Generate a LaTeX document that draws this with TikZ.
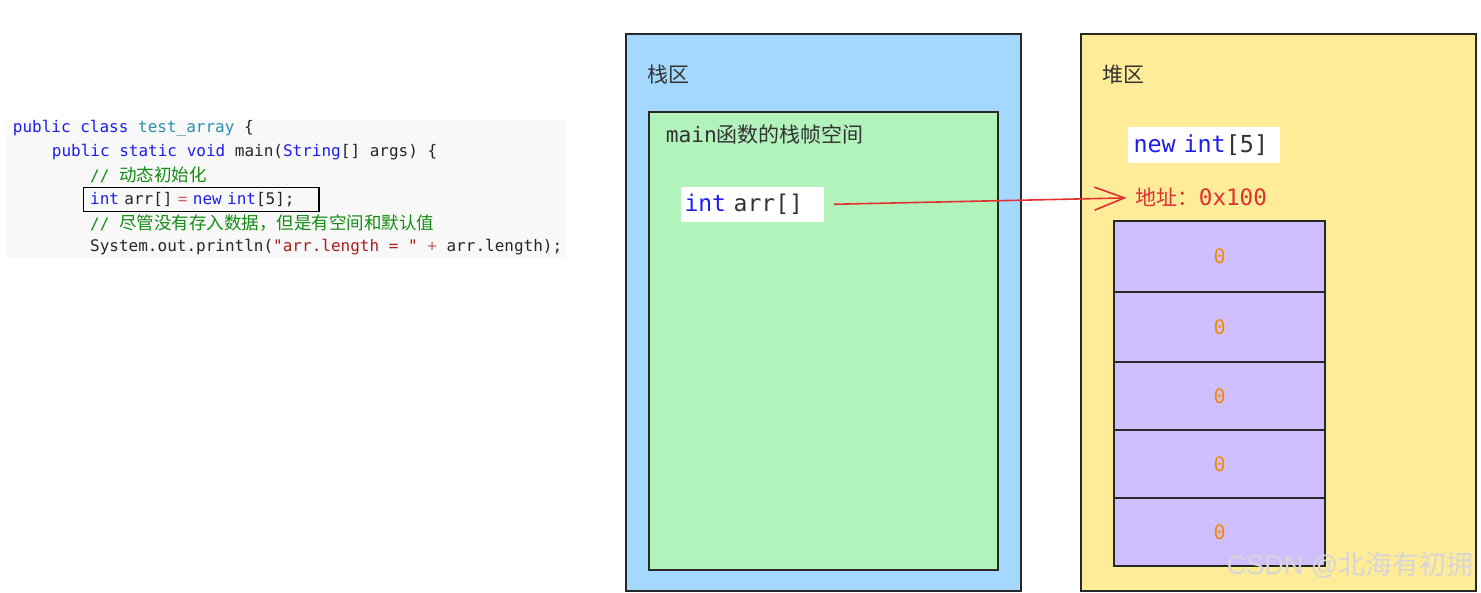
\documentclass[tikz,border=0pt]{standalone}
\usepackage{fontspec}
\setmainfont{Noto Sans CJK SC}
\setmonofont{DejaVu Sans Mono}
\newfontfamily\cjk{Noto Sans CJK SC}
\newfontfamily\wmfont{Liberation Sans}
\usetikzlibrary{positioning}
\usetikzlibrary{arrows.meta}
\definecolor{StackBlue}{RGB}{165, 216, 255}
\definecolor{FrameGreen}{RGB}{178, 242, 187}
\definecolor{HeapYellow}{RGB}{255, 236, 153}
\definecolor{CellPurple}{RGB}{208, 191, 255}
\definecolor{ZeroOrange}{RGB}{240, 140, 0}
\definecolor{PtrRed}{RGB}{224, 49, 49}
\definecolor{EdgeGray}{RGB}{40, 40, 40}
\definecolor{CodeBg}{RGB}{248, 248, 248}
\definecolor{KwBlue}{RGB}{30, 30, 235}
\definecolor{TypeTeal}{RGB}{43, 145, 170}
\definecolor{CmtGreen}{RGB}{20, 140, 20}
\definecolor{StrRed}{RGB}{170, 30, 30}
\definecolor{OpRed}{RGB}{200, 100, 100}
\newcommand{\mono}[1]{\ttfamily\fontsize{#1}{#1}\selectfont}
\newcommand{\codefont}{\mono{16}}
\newcommand{\kw}[1]{\textcolor{KwBlue}{#1}}
\newcommand{\typ}[1]{\textcolor{TypeTeal}{#1}}
\newcommand{\cmt}[1]{\textcolor{CmtGreen}{#1}}
\newcommand{\lit}[1]{\textcolor{StrRed}{#1}}
\newcommand{\op}[1]{\textcolor{OpRed}{#1}}
\newcommand{\zhcode}[1]{{\cjk\fontsize{17.5}{18}\selectfont #1}}

\begin{document}
\begin{tikzpicture}[
  x=1pt, y=-1pt,
  region/.style={draw=EdgeGray, line width=1.8pt, inner sep=0pt},
  codeline/.style={anchor=west, inner sep=0pt, font=\codefont, text=black!85},
  title/.style={anchor=west, inner sep=0pt, font=\fontsize{21}{24}\selectfont, text=black!80},
  chip/.style={fill=white, anchor=west, inner ysep=0pt, align=left,
               font=\mono{23}, text=black!80},
  cell/.style={draw=EdgeGray, fill=CellPurple, line width=1.8pt, minimum width=210.7pt,
               text=ZeroOrange, font=\mono{20}},
  ptr/.style={draw=PtrRed, line width=1.6pt,
              -{Straight Barb[length=30pt, width=23pt, line width=1.6pt]}}
]
\path[use as bounding box, fill=white] (0,0) rectangle (1481,592);
% source code on the left
\node[fill=CodeBg, minimum width=558.7pt, minimum height=138.3pt, inner sep=0pt] (codebg) at (286.65,189.15) {};
\node[codeline] (l1) at (12.7,128.3) {\kw{public} \kw{class} \typ{test\_array} \{};
\node[codeline] (l2) at (51.7,151.7) {\kw{public} \kw{static} \kw{void} main(\kw{String}[] args) \{};
\node[codeline] (l3) at (90,175) {\cmt{// \zhcode{动态初始化}}};
\node[codeline, draw=black, line width=1.4pt, inner xsep=6.8pt, minimum height=24pt,
      text width=222pt, align=left] (decl) at (82.7,199.7) {\kw{int} arr[] \op{=} \kw{new} \kw{int}[5];};
\node[codeline] (l5) at (90,223.3) {\cmt{// \zhcode{尽管没有存入数据，但是有空间和默认值}}};
\node[codeline] (l6) at (90,246.7) {System.out.println(\lit{"arr.length = "} \op{+} arr.length);};
% stack
\node[region, fill=StackBlue, minimum width=394.7pt, minimum height=556.7pt] (stack) at (823.35,312.35) {};
\node[title] (stacklab) at (647.5,75) {栈区};
\node[region, fill=FrameGreen, minimum width=348.4pt, minimum height=457.7pt] (frame) at (823.5,341.15) {};
\node[title] (framelab) at (665.7,134) {{\ttfamily\fontsize{21.2}{24}\selectfont main}函数的栈帧空间};
\node[chip, inner xsep=3.3pt, text width=135.7pt, minimum height=35pt] (arrvar) at (681,204.5) {\kw{int} arr[]};
% heap
\node[region, fill=HeapYellow, minimum width=395pt, minimum height=557pt] (heap) at (1278.2,312.5) {};
\node[title] (heaplab) at (1102,75) {堆区};
\node[chip, inner xsep=6pt, text width=140.7pt, minimum height=36pt, font=\mono{23.4}]
  (newarr) at (1127.3,145.3) {\kw{new} \kw{int}[5]};
\node[anchor=west, inner sep=0pt, text=PtrRed, font=\fontsize{21}{24}\selectfont] (addr) at (1135.7,197.7)
  {地址：{\ttfamily\fontsize{22.6}{24}\selectfont 0x100}};
\node[cell, minimum height=71.3pt] (c1) at (1219.7,256.35) {0};
\node[cell, minimum height=70pt]   (c2) at (1219.7,327) {0};
\node[cell, minimum height=68pt]   (c3) at (1219.7,396) {0};
\node[cell, minimum height=68.3pt] (c4) at (1219.7,464.15) {0};
\node[cell, minimum height=67.7pt] (c5) at (1219.7,532.15) {0};
\draw[ptr, shorten <=10.3pt, shorten >=9pt] (arrvar.east) -- (addr.west);
% watermark
\node[anchor=west, inner sep=0pt, text=black!16, font=\wmfont\fontsize{27}{30}\selectfont] (mark) at (1226.7,565)
  {CSDN @{\cjk 北海有初拥}};
\end{tikzpicture}
\end{document}
